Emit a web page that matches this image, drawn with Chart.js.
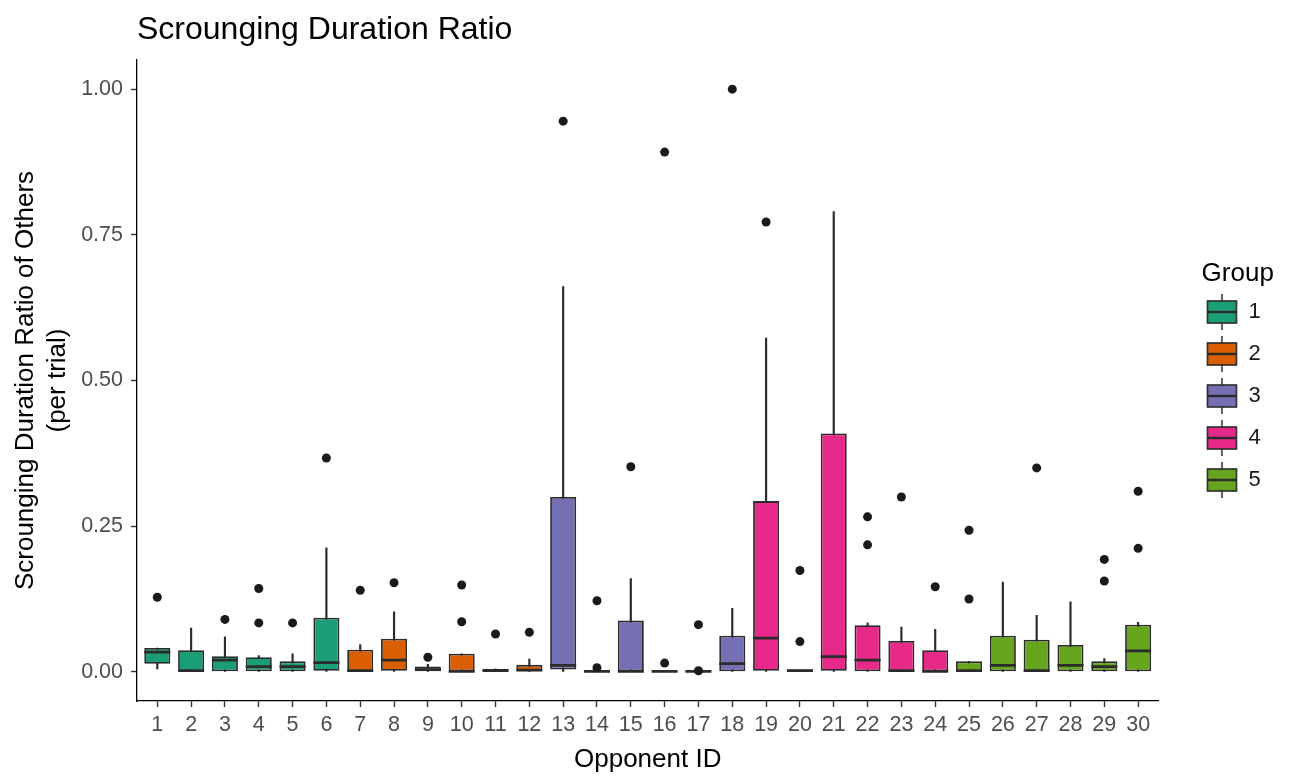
<!DOCTYPE html>
<html>
<head>
<meta charset="utf-8">
<script src="https://cdn.jsdelivr.net/npm/chart.js@4.4.1/dist/chart.umd.min.js"></script>
<style>
  body { margin: 0; background: #fff; }
</style>
</head>
<body>
<canvas id="boxChart" width="1289" height="776"></canvas>
<script>
// Opponent IDs and the group each one belongs to
const opponentIds = [1, 2, 3, 4, 5, 6, 7, 8, 9, 10, 11, 12, 13, 14, 15, 16, 17, 18, 19, 20, 21, 22, 23, 24, 25, 26, 27, 28, 29, 30];
const groupIds = [1, 1, 1, 1, 1, 1, 2, 2, 2, 2, 2, 2, 3, 3, 3, 3, 3, 3, 4, 4, 4, 4, 4, 4, 5, 5, 5, 5, 5, 5];
const groupNames = ['1', '2', '3', '4', '5'];
const groupColors = ['#1B9E77', '#D95F02', '#7570B3', '#E7298A', '#66A61E'];

// Box statistics
const q1Values = [0.014, 0.000, 0.000, 0.000, 0.000, 0.002, 0.000, 0.002, 0.000, 0.000, 0.000, 0.000, 0.004, 0.000, 0.000, 0.000, 0.000, 0.000, 0.002, 0.000, 0.002, 0.000, 0.000, 0.000, 0.000, 0.000, 0.000, 0.000, 0.000, 0.000];
const medianValues = [0.034, 0.002, 0.020, 0.009, 0.009, 0.016, 0.002, 0.020, 0.004, 0.001, 0.002, 0.003, 0.011, 0.001, 0.001, 0.001, 0.001, 0.014, 0.058, 0.002, 0.026, 0.020, 0.002, 0.001, 0.002, 0.011, 0.002, 0.011, 0.009, 0.036];
const q3Values = [0.041, 0.037, 0.027, 0.025, 0.018, 0.093, 0.038, 0.057, 0.009, 0.031, 0.005, 0.012, 0.300, 0.003, 0.088, 0.002, 0.003, 0.062, 0.293, 0.004, 0.409, 0.080, 0.053, 0.037, 0.018, 0.062, 0.055, 0.046, 0.018, 0.081];
const whiskerLow = [0.005, 0, 0, 0, 0, 0, 0, 0, 0, 0, 0, 0, 0, 0, 0, 0, 0, 0, 0, 0, 0, 0, 0, 0, 0, 0, 0, 0, 0, 0];
const whiskerHigh = [0.041, 0.075, 0.060, 0.028, 0.031, 0.213, 0.047, 0.103, 0.013, 0.031, 0.005, 0.022, 0.661, 0.003, 0.160, 0.002, 0.003, 0.109, 0.573, 0.004, 0.790, 0.084, 0.077, 0.073, 0.018, 0.154, 0.097, 0.120, 0.023, 0.085];

// Outlier points (opponent id, value)
const outlierIds = [1, 3, 4, 4, 5, 6, 7, 8, 9, 10, 10, 11, 12, 13, 14, 14, 15, 16, 16, 17, 17, 18, 19, 20, 20, 22, 22, 23, 24, 25, 25, 27, 29, 29, 30, 30];
const outlierValues = [0.128, 0.090, 0.143, 0.084, 0.084, 0.367, 0.140, 0.153, 0.025, 0.149, 0.086, 0.065, 0.068, 0.945, 0.122, 0.007, 0.352, 0.892, 0.015, 0.081, 0.002, 1.000, 0.772, 0.174, 0.052, 0.218, 0.266, 0.300, 0.146, 0.125, 0.243, 0.350, 0.193, 0.156, 0.212, 0.310];

const yTicks = [0, 0.25, 0.5, 0.75, 1.0];

Chart.defaults.font.family = '"Liberation Sans", Arial, sans-serif';

// Small box-and-whisker icon used as the legend key
function legendIcon(color) {
    const c = document.createElement('canvas');
    c.width = 32;
    c.height = 36;
    const g = c.getContext('2d');
    g.strokeStyle = '#2b2b2b';
    g.lineWidth = 1.5;
    g.beginPath();
    g.moveTo(16, 0);
    g.lineTo(16, 36);
    g.stroke();
    g.fillStyle = color;
    g.fillRect(1.5, 7, 29, 22);
    g.lineWidth = 1.6;
    g.strokeRect(1.5, 7, 29, 22);
    g.lineWidth = 2.4;
    g.beginPath();
    g.moveTo(1.5, 18);
    g.lineTo(30.5, 18);
    g.stroke();
    return c;
}

// Title drawn flush with the plot panel like ggplot does
const panelTitle = {
    id: 'panelTitle',
    afterDraw(chart) {
        const ctx = chart.ctx;
        ctx.save();
        ctx.font = '32px "Liberation Sans", Arial, sans-serif';
        ctx.fillStyle = '#000';
        ctx.textBaseline = 'alphabetic';
        ctx.fillText('Scrounging Duration Ratio', chart.chartArea.left, 39);
        ctx.restore();
    }
};

const boxColors = groupIds.map(g => groupColors[g - 1]);

const ctx = document.getElementById('boxChart').getContext('2d');
new Chart(ctx, {
    type: 'bar',
    data: {
        datasets: [
            {
                label: 'whiskers',
                data: opponentIds.map((id, i) => ({ x: id, y: [whiskerLow[i], whiskerHigh[i]] })),
                backgroundColor: '#2b2b2b',
                barThickness: 1.5,
                grouped: false,
                order: 3
            },
            {
                label: 'boxes',
                data: opponentIds.map((id, i) => ({ x: id, y: [q1Values[i], q3Values[i]] })),
                backgroundColor: boxColors,
                borderColor: '#2b2b2b',
                borderWidth: 1.8,
                borderSkipped: false,
                barPercentage: 0.77,
                categoryPercentage: 1,
                grouped: false,
                order: 2
            },
            {
                type: 'line',
                label: 'medians',
                data: opponentIds.map((id, i) => ({ x: id, y: medianValues[i] })),
                showLine: false,
                pointStyle: 'line',
                pointRadius: 13,
                pointBorderWidth: 2.7,
                pointBorderColor: '#2b2b2b',
                order: 1
            },
            {
                type: 'line',
                label: 'outliers',
                data: outlierIds.map((id, i) => ({ x: id, y: outlierValues[i] })),
                showLine: false,
                pointRadius: 4.5,
                pointBackgroundColor: '#1a1a1a',
                pointBorderWidth: 0,
                order: 0
            }
        ]
    },
    options: {
        responsive: false,
        animation: false,
        events: [],
        layout: { padding: { top: 60, right: 0, bottom: 0, left: 0 } },
        scales: {
            x: {
                type: 'linear',
                min: 0.4,
                max: 30.6,
                offset: false,
                afterBuildTicks: s => { s.ticks = opponentIds.map(v => ({ value: v })); },
                afterFit: s => { s.height = 75; },
                ticks: {
                    autoSkip: false,
                    maxRotation: 0,
                    color: '#4d4d4d',
                    font: { size: 21.5 },
                    padding: 5,
                    callback: v => String(v)
                },
                grid: { display: true, offset: false, drawOnChartArea: false, drawTicks: true, tickLength: 6, tickColor: '#333', tickWidth: 1.4 },
                border: { color: '#000', width: 1.3 },
                title: { display: true, text: 'Opponent ID', color: '#000', font: { size: 26 }, padding: { top: 0, bottom: 1 } }
            },
            y: {
                min: -0.05,
                max: 1.05,
                afterBuildTicks: s => { s.ticks = yTicks.map(v => ({ value: v })); },
                afterFit: s => { s.width = 137; },
                ticks: {
                    color: '#4d4d4d',
                    font: { size: 21.5 },
                    padding: 8,
                    callback: v => v.toFixed(2)
                },
                grid: { drawOnChartArea: false, tickLength: 6, tickColor: '#333', tickWidth: 1.4 },
                border: { color: '#000', width: 1.3 },
                title: {
                    display: true,
                    text: ['Scrounging Duration Ratio of Others', '(per trial)'],
                    color: '#000',
                    font: { size: 26, lineHeight: 1.23 },
                    padding: { top: 10, bottom: 0 }
                }
            },
            gap: {
                // empty axis that only keeps the legend away from the panel
                type: 'linear',
                position: 'right',
                display: true,
                ticks: { display: false },
                grid: { display: false },
                border: { display: false },
                afterFit: s => { s.width = 28; }
            }
        },
        plugins: {
            tooltip: { enabled: false },
            legend: {
                position: 'right',
                align: 'start',
                onClick: null,
                title: {
                    display: true,
                    text: 'Group',
                    position: 'center',
                    color: '#000',
                    font: { size: 26, lineHeight: 1.0 },
                    padding: { top: 201, bottom: -6 }
                },
                labels: {
                    usePointStyle: true,
                    pointStyleWidth: 31,
                    padding: 20,
                    color: '#1a1a1a',
                    font: { size: 22 },
                    generateLabels: () => groupNames.map((name, i) => ({
                        text: name + '   ',
                        pointStyle: legendIcon(groupColors[i]),
                        fillStyle: groupColors[i],
                        strokeStyle: '#333',
                        fontColor: '#1a1a1a',
                        lineWidth: 0,
                        hidden: false,
                        index: i
                    }))
                }
            }
        }
    },
    plugins: [panelTitle]
});
</script>
</body>
</html>
